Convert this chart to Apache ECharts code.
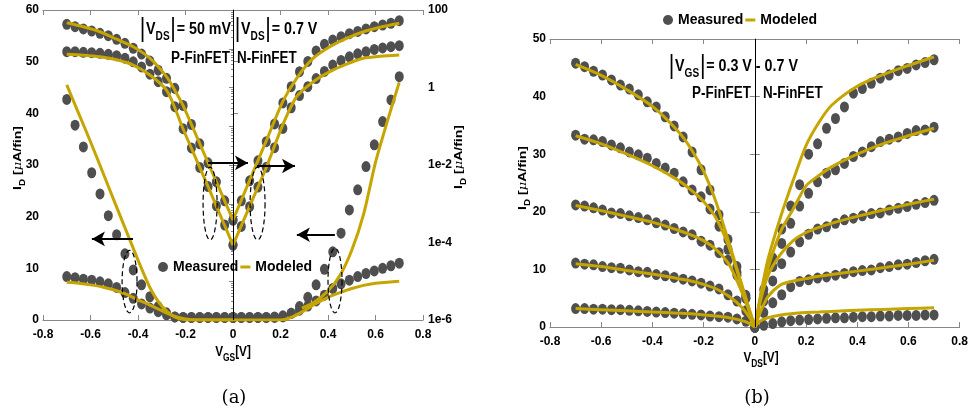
<!DOCTYPE html>
<html>
<head>
<meta charset="utf-8">
<script src="https://cdn.jsdelivr.net/npm/echarts@6/dist/echarts.min.js"></script>
<style>
html, body { margin: 0; padding: 0; background: #fff; }
#chart { width: 971px; height: 416px; }
</style>
</head>
<body>
<div id="chart"></div>
<script>
// ---- sample points of the measured dots (V) ----
const vNeg = [-0.7,-0.665,-0.63,-0.595,-0.56,-0.525,-0.49,-0.455,-0.42,-0.385,-0.35,-0.315,-0.28,-0.245,-0.21,-0.175,-0.14,-0.105,-0.07,-0.035,0];
const vPos = [0,0.035,0.07,0.105,0.14,0.175,0.21,0.245,0.28,0.315,0.35,0.385,0.42,0.455,0.49,0.525,0.56,0.595,0.63,0.665,0.7];

// ---- (a) transfer curves, linear axis, measured ----
const aLinPHigh = [42.7,37.7,33.5,28.5,24.4,20.2,16.5,12.8,9.7,6.8,4.5,2.6,1.4,0.6,0.5,0.5,0.5,0.5,0.5,0.5,0.5];
const aLinPLow  = [8.4,8.2,7.9,7.7,7.4,7.0,6.3,5.3,4.2,3.1,2.3,1.6,1.0,0.6,0.5,0.5,0.5,0.5,0.5,0.5,0.5];
const aLinNHigh = [0.5,0.5,0.5,0.5,0.5,0.5,0.6,1.3,2.6,4.4,6.8,9.8,13.2,16.8,21.3,25.2,29.7,33.9,38.4,42.6,47.1];
const aLinNLow  = [0.5,0.5,0.5,0.5,0.5,0.6,0.8,1.3,1.9,2.7,3.7,4.8,6.1,7.0,7.7,8.4,9.0,9.5,10.0,10.5,11.0];

// ---- (a) transfer curves, log axis, measured ----
const aLogPHigh = [42.8,37.1,32.4,28.7,25.0,21.7,17.5,13.8,10.3,7.3,4.8,2.8,1.73,0.95,0.343,0.111,0.0352,0.0114,0.00368,0.00119,0.00038];
const aLogPLow  = [8.4,8.4,8.1,7.9,7.6,7.2,6.6,5.7,4.6,3.4,2.2,1.41,0.78,0.32,0.0865,0.0276,0.00867,0.00277,0.000885,0.000283,0.000086];
const aLogNHigh = [0.00038,0.00119,0.0039,0.0128,0.040,0.115,0.40,1.05,2.56,4.7,8.8,13.0,16.8,20.5,24.5,28,32.5,37,41,45.5,53];
const aLogNLow  = [0.000086,0.00026,0.00084,0.0027,0.0087,0.028,0.088,0.30,0.62,1.05,1.7,2.6,3.8,5.0,6.2,7.4,8.4,9.6,10.5,11.3,12.0];

// ---- (a) modeled, linear axis ----
const aModLinPX = [-0.7,-0.65,-0.6,-0.55,-0.5,-0.45,-0.4,-0.35,-0.3,-0.25,-0.2,-0.15,0];
const aModLinPHigh = [45.5,40.0,34.5,28.8,23.0,17.3,11.6,6.3,2.7,0.7,0.05,0,0];
const aModLinPLow  = [7.3,7.1,6.8,6.4,5.8,5.0,3.9,2.9,1.8,0.8,0.2,0,0];
const aModLinNHighX = [0.29,0.34,0.4,0.45,0.5,0.55,0.6,0.65,0.7];
const aModLinNHigh  = [2.3,3.4,5.6,8.6,13.5,20.5,30.5,38.5,46.0];
const aModLinNLowX = [0,0.2,0.25,0.3,0.35,0.4,0.45,0.5,0.55,0.6,0.65,0.7];
const aModLinNLow  = [0,0,0.6,1.8,3.2,4.4,5.3,6.1,6.7,7.1,7.3,7.5];

// ---- (a) modeled, log axis ----
const aModLogPX = [-0.7,-0.63,-0.56,-0.49,-0.42,-0.35,-0.28,-0.245,-0.21,-0.14,-0.07,0];
const aModLogPHigh = [47,37,27.5,17.6,11.3,5.7,1.9,0.85,0.34,0.0356,0.00368,0.00038];
const aModLogPLow  = [7.2,6.8,6.2,5.2,3.8,2.1,0.86,0.30,0.085,0.0087,0.00087,0.000086];
const aModLogNX = [0,0.07,0.14,0.21,0.268,0.338,0.408,0.478,0.549,0.62,0.7];
const aModLogNHigh = [0.00038,0.004,0.042,0.44,1.73,5.7,11.3,18.5,27.5,36,45.5];
const aModLogNLow  = [0.000086,0.00086,0.0086,0.11,0.58,1.41,2.56,4.0,5.7,6.4,6.9];

// ---- (b) output curves, |VGS| = 0.7 ... 0.3 V, measured ----
const bP07 = [45.8,45.2,44.4,43.75,42.9,42.0,41.3,40.3,39.1,38.2,36.5,34.9,33.0,30.4,27.3,23.8,19.5,15.2,10.5,5.5,0];
const bP06 = [33.3,32.6,32.5,32.2,31.6,31.1,30.4,29.9,29.3,28.4,27.6,26.7,25.2,23.8,22.6,20.5,17.5,13.5,9.5,5,0];
const bP05 = [21.2,21.0,20.7,20.3,19.8,19.7,19.3,19.0,18.6,18.1,17.7,17.1,16.5,16.0,14.9,14.2,12.9,11.6,9,5,0];
const bP04 = [11.1,10.9,10.8,10.5,10.3,10.2,9.9,9.6,9.5,9.1,8.9,8.6,8.3,8.0,7.6,7.1,6.6,5.6,4.5,2.8,0];
const bP03 = [3.2,3.2,3.1,3.1,3.0,3.0,2.9,2.8,2.7,2.6,2.5,2.4,2.3,2.2,2.1,1.9,1.8,1.7,1.4,1.0,0.2];
const bN07 = [0,6.5,12,17,21,24.7,30.0,31.8,34.5,36.2,38.2,40.6,41.4,42.3,43.2,43.75,44.5,44.9,45.5,45.9,46.4];
const bN06 = [0,5.5,10.5,14.5,18,21,23.2,25.2,26.7,27.3,28.4,29.6,30.4,31.3,32.2,32.6,33.0,33.6,34.1,34.2,34.7];
const bN05 = [0,4.5,8,11,13,14.8,16.1,17.0,17.4,18.0,18.6,18.9,19.3,19.7,19.8,20.3,20.6,20.9,21.3,21.6,22.0];
const bN04 = [0,2.5,4.2,5.6,7.0,7.9,8.2,8.5,8.7,9.0,9.3,9.6,9.8,9.9,10.3,10.5,10.8,10.9,11.2,11.5,11.75];
const bN03 = [0,0.3,0.6,0.9,1.1,1.2,1.3,1.4,1.5,1.6,1.6,1.7,1.8,1.8,1.9,1.9,2.0,2.0,2.0,2.1,2.1];

// ---- (b) modeled ----
const bModPX = [-0.7,-0.6,-0.5,-0.4,-0.3,-0.25,-0.2,-0.15,-0.1,-0.05,-0.02,0];
const bModP07 = [45.6,43.7,41.2,38.3,34.0,31.0,27.0,21.5,14.5,7.2,2.8,0];
const bModP06 = [33.2,31.8,30.0,28.0,25.5,23.8,21.8,18.8,13.8,7.0,2.8,0];
const bModP05 = [21.1,20.2,19.2,18.2,16.8,16.0,15.0,13.4,10.8,6.0,2.5,0];
const bModP04 = [11.0,10.5,9.8,9.2,8.4,8.0,7.4,6.6,5.3,3.4,1.6,0];
const bModP03 = [3.2,3.0,2.8,2.6,2.4,2.3,2.1,1.9,1.6,1.1,0.6,0];
const bModNX = [0,0.02,0.05,0.1,0.15,0.2,0.25,0.3,0.4,0.5,0.6,0.7];
const bModN07 = [0,5,11.5,19,25.5,31.5,35.5,38.5,41.8,43.8,45.4,46.9];
const bModN06 = [0,4.5,10,16.5,20.5,24.5,26.3,27.8,30.0,31.8,33.2,34.5];
const bModN05 = [0,4.2,8.8,12.6,15.0,16.4,17.3,18.0,19.2,20.3,21.3,22.2];
const bModN04 = [0,2.4,5.2,7.3,8.0,8.4,8.8,9.1,9.7,10.3,10.9,11.6];
const bModN03 = [0,1.0,1.6,2.1,2.35,2.5,2.6,2.7,2.9,3.05,3.2,3.35];

// ---- annotations of (a): arrows [x1, y1, x2, y2] and dashed loops [x1, y1, x2, y2] on the linear axes ----
const arrowSegs = [[-0.421,15.7,-0.594,15.7],[0.429,16.5,0.269,16.5],[-0.105,30.4,0.063,30.4],[0.101,29.8,0.261,29.8]];
const dashLoops = [[-0.467,13.5,-0.404,1.4],[0.40,13.9,0.459,1.4],[-0.126,29.6,-0.067,15.5],[0.072,29.6,0.135,15.5]];

const DOT = '#4f4f4f';
const LINE = '#c6a500';
const AXIS = '#888';
const FONT = "'Liberation Sans',Arial,sans-serif";
const NARROW = 0.84;   // horizontal squeeze to mimic the narrow bold face

function pairs(xs, ys) {
    return xs.map((x, i) => [x, ys[i]]);
}

function dots(xs, ys, xi, yi) {
    return {
        name: 'Measured', type: 'scatter', xAxisIndex: xi, yAxisIndex: yi,
        data: pairs(xs, ys), symbolSize: [9, 11],
        itemStyle: { color: DOT, opacity: 1 }, z: 2, silent: true
    };
}

function model(xs, ys, xi, yi) {
    return {
        name: 'Modeled', type: 'line', xAxisIndex: xi, yAxisIndex: yi,
        data: pairs(xs, ys), smooth: 0.25, showSymbol: false,
        lineStyle: { color: LINE, width: 3 }, itemStyle: { color: LINE }, z: 3, silent: true
    };
}

function xAxisPair(grid) {
    const fmt = v => Math.abs(v) < 1e-9 ? '0' : v.toFixed(1);
    return [{
        gridIndex: grid, type: 'value', min: -0.8, max: 0.8, interval: 0.2, position: 'bottom',
        axisLine: { onZero: false, lineStyle: { color: AXIS } },
        axisTick: { inside: true, length: 5, lineStyle: { color: AXIS } },
        splitLine: { show: false },
        axisLabel: { formatter: fmt, margin: 9, fontFamily: FONT, fontWeight: 'bold', fontSize: 12, color: '#000' }
    }, {
        gridIndex: grid, type: 'value', min: -0.8, max: 0.8, interval: 0.2, position: 'top',
        axisLine: { onZero: false, lineStyle: { color: AXIS } },
        axisTick: { inside: true, length: 5, lineStyle: { color: AXIS } },
        splitLine: { show: false }, axisLabel: { show: false }
    }];
}

function logLabel(v) {
    const e = Math.round(Math.log10(v));
    if (e % 2 !== 0) return '';
    if (e === 2) return '100';
    if (e === 0) return '1';
    return '1e' + e;
}

const richName = {
    t: { fontFamily: FONT, fontWeight: 'bold', fontSize: 14, color: '#000', lineHeight: 22 },
    s: { fontFamily: FONT, fontWeight: 'bold', fontSize: 10, color: '#000', lineHeight: 6, verticalAlign: 'bottom' },
    m: { fontFamily: 'DejaVu Serif', fontStyle: 'italic', fontSize: 13, color: '#000', lineHeight: 22 }
};
const richNote = {
    t: { fontFamily: FONT, fontWeight: 'bold', fontSize: 17, color: '#000', lineHeight: 28 },
    s: { fontFamily: FONT, fontWeight: 'bold', fontSize: 12, color: '#000', lineHeight: 8, verticalAlign: 'bottom' },
    b: { fontFamily: 'DejaVu Sans', fontSize: 25, color: '#000', lineHeight: 28 }
};

function note(text, x, y, align) {
    return { type: 'text', x: x, y: y, scaleX: NARROW, style: { text: text, rich: richNote, align: align || 'left', verticalAlign: 'middle' } };
}
function plain(text, x, y, align) {
    return { type: 'text', x: x, y: y, scaleX: NARROW, style: { text: text, fontFamily: FONT, fontWeight: 'bold', fontSize: 16, fill: '#000', align: align, verticalAlign: 'middle' } };
}
function axisName(text, x, y, rot) {
    return { type: 'text', x: x, y: y, rotation: rot || 0, scaleX: rot ? 1 : NARROW, scaleY: rot ? NARROW : 1,
        style: { text: text, rich: richName, align: 'center', verticalAlign: 'middle' } };
}

const legendBase = {
    data: [{ name: 'Measured', icon: 'circle' }, { name: 'Modeled', icon: 'path://M0,0H10V3H0Z' }],
    itemWidth: 10, itemHeight: 12, itemGap: 2, selectedMode: false,
    textStyle: { fontFamily: FONT, fontWeight: 'bold', fontSize: 14, color: '#000' }
};

const vLine = { silent: true, symbol: 'none', label: { show: false }, lineStyle: { color: '#000', width: 1, type: 'solid' }, data: [{ xAxis: 0 }] };

const chart = echarts.init(document.getElementById('chart'), null, { renderer: 'canvas' });

const option = {
    animation: false,
    backgroundColor: '#fff',
    grid: [
        { left: 43, top: 10, width: 380, height: 310 },
        { left: 550, top: 39, width: 413, height: 288 }
    ],
    legend: [
        Object.assign({}, legendBase, { left: 155, top: 258, padding: [2, 3], backgroundColor: '#fff' }),
        Object.assign({}, legendBase, { left: 663, top: 13, padding: 0 })
    ],
    xAxis: [].concat(xAxisPair(0), xAxisPair(1)),
    yAxis: [{
        gridIndex: 0, type: 'value', min: 0, max: 60, interval: 10, position: 'left',
        axisLine: { show: true, lineStyle: { color: AXIS } },
        axisTick: { show: true, inside: true, length: 5, lineStyle: { color: AXIS } },
        splitLine: { show: false },
        axisLabel: { margin: 4, fontFamily: FONT, fontWeight: 'bold', fontSize: 12, color: '#000' }
    }, {
        gridIndex: 0, type: 'log', logBase: 10, min: 1e-6, max: 100, position: 'right',
        axisLine: { show: true, lineStyle: { color: AXIS } },
        axisTick: { show: true, inside: true, length: 4, lineStyle: { color: AXIS } },
        minorTick: { show: true, splitNumber: 9, length: 2, lineStyle: { color: AXIS } },
        splitLine: { show: false },
        axisLabel: { formatter: logLabel, margin: 5, fontFamily: FONT, fontWeight: 'bold', fontSize: 12, color: '#000' }
    }, {
        gridIndex: 1, type: 'value', min: 0, max: 50, interval: 10, position: 'left',
        axisLine: { show: true, lineStyle: { color: AXIS } },
        axisTick: { show: true, inside: true, length: 5, lineStyle: { color: AXIS } },
        splitLine: { show: false },
        axisLabel: { margin: 4, fontFamily: FONT, fontWeight: 'bold', fontSize: 12, color: '#000' }
    }, {
        gridIndex: 1, type: 'value', min: 0, max: 50, interval: 10, position: 'right',
        axisLine: { show: true, lineStyle: { color: AXIS } },
        axisTick: { show: true, inside: true, length: 5, lineStyle: { color: AXIS } },
        splitLine: { show: false }, axisLabel: { show: false }
    }],
    series: [
        // zero lines and annotations
        { name: 'zeroA', type: 'line', xAxisIndex: 0, yAxisIndex: 0, data: [], z: 1, markLine: vLine },
        { name: 'zeroB', type: 'line', xAxisIndex: 2, yAxisIndex: 2, data: [], z: 1, markLine: vLine },
        {
            name: 'arrows', type: 'line', xAxisIndex: 0, yAxisIndex: 0, data: [], z: 4,
            markLine: {
                silent: true, symbol: ['none', 'arrow'], symbolSize: [11, 13], label: { show: false },
                lineStyle: { color: '#000', width: 2, type: 'solid' },
                data: arrowSegs.map(s => [{ coord: [s[0], s[1]] }, { coord: [s[2], s[3]] }])
            }
        },
        {
            name: 'loops', type: 'custom', xAxisIndex: 0, yAxisIndex: 0, data: dashLoops, z: 4, silent: true,
            encode: { x: [0, 2], y: [1, 3] },
            renderItem: function (params, api) {
                const p1 = api.coord([api.value(0), api.value(1)]);
                const p2 = api.coord([api.value(2), api.value(3)]);
                const cx = (p1[0] + p2[0]) / 2, cy = (p1[1] + p2[1]) / 2;
                const rx = Math.abs(p2[0] - p1[0]) / 2, ry = Math.abs(p2[1] - p1[1]) / 2;
                const pts = [];
                for (let k = 0; k <= 48; k++) {
                    const t = k / 48 * Math.PI * 2;
                    pts.push([cx + rx * Math.cos(t), cy + ry * Math.sin(t)]);
                }
                return { type: 'polyline', shape: { points: pts }, style: { fill: 'none', stroke: '#000', lineWidth: 1.2, lineDash: [5, 3] } };
            }
        },
        // (a) measured
        dots(vNeg, aLinPHigh, 0, 0), dots(vNeg, aLinPLow, 0, 0),
        dots(vPos, aLinNHigh, 0, 0), dots(vPos, aLinNLow, 0, 0),
        dots(vNeg, aLogPHigh, 0, 1), dots(vNeg, aLogPLow, 0, 1),
        dots(vPos, aLogNHigh, 0, 1), dots(vPos, aLogNLow, 0, 1),
        // (a) modeled
        model(aModLinPX, aModLinPHigh, 0, 0), model(aModLinPX, aModLinPLow, 0, 0),
        model(aModLinNHighX, aModLinNHigh, 0, 0), model(aModLinNLowX, aModLinNLow, 0, 0),
        model(aModLogPX, aModLogPHigh, 0, 1), model(aModLogPX, aModLogPLow, 0, 1),
        model(aModLogNX, aModLogNHigh, 0, 1), model(aModLogNX, aModLogNLow, 0, 1),
        // (b) measured
        dots(vNeg, bP07, 2, 2), dots(vNeg, bP06, 2, 2), dots(vNeg, bP05, 2, 2), dots(vNeg, bP04, 2, 2), dots(vNeg, bP03, 2, 2),
        dots(vPos, bN07, 2, 2), dots(vPos, bN06, 2, 2), dots(vPos, bN05, 2, 2), dots(vPos, bN04, 2, 2), dots(vPos, bN03, 2, 2),
        // (b) modeled
        model(bModPX, bModP07, 2, 2), model(bModPX, bModP06, 2, 2), model(bModPX, bModP05, 2, 2),
        model(bModPX, bModP04, 2, 2), model(bModPX, bModP03, 2, 2),
        model(bModNX, bModN07, 2, 2), model(bModNX, bModN06, 2, 2), model(bModNX, bModN05, 2, 2),
        model(bModNX, bModN04, 2, 2), model(bModNX, bModN03, 2, 2)
    ],
    graphic: [
        // (a) notes
        note('{b||}{t|V}{s|DS}{b||}{t|= 50 mV}', 139, 29),
        note('{b||}{t|V}{s|DS}{b||}{t|= 0.7 V}', 234, 29),
        plain('P-FinFET', 230, 59, 'right'),
        plain('N-FinFET', 237, 59, 'left'),
        // (b) notes
        note('{b||}{t|V}{s|GS}{b||}{t|= 0.3 V - 0.7 V}', 668, 66),
        plain('P-FinFET', 751, 94, 'right'),
        plain('N-FinFET', 763, 94, 'left'),
        // axis names
        axisName('{t|V}{s|GS}{t|[V]}', 233, 352),
        axisName('{t|V}{s|DS}{t|[V]}', 761, 358),
        axisName('{t|I}{s|D}{t| [}{m|μ}{t|A/fin]}', 18, 158, Math.PI / 2),
        axisName('{t|I}{s|D}{t| [}{m|μ}{t|A/fin]}', 459, 157, Math.PI / 2),
        axisName('{t|I}{s|D}{t| [}{m|μ}{t|A/fin]}', 523, 178, Math.PI / 2),
        // captions
        { type: 'text', x: 234, y: 398, style: { text: '(a)', fontFamily: "'DejaVu Serif',serif", fontSize: 18, fill: '#000', align: 'center', verticalAlign: 'middle' } },
        { type: 'text', x: 757, y: 398, style: { text: '(b)', fontFamily: "'DejaVu Serif',serif", fontSize: 18, fill: '#000', align: 'center', verticalAlign: 'middle' } }
    ]
};

chart.setOption(option);
</script>
</body>
</html>
